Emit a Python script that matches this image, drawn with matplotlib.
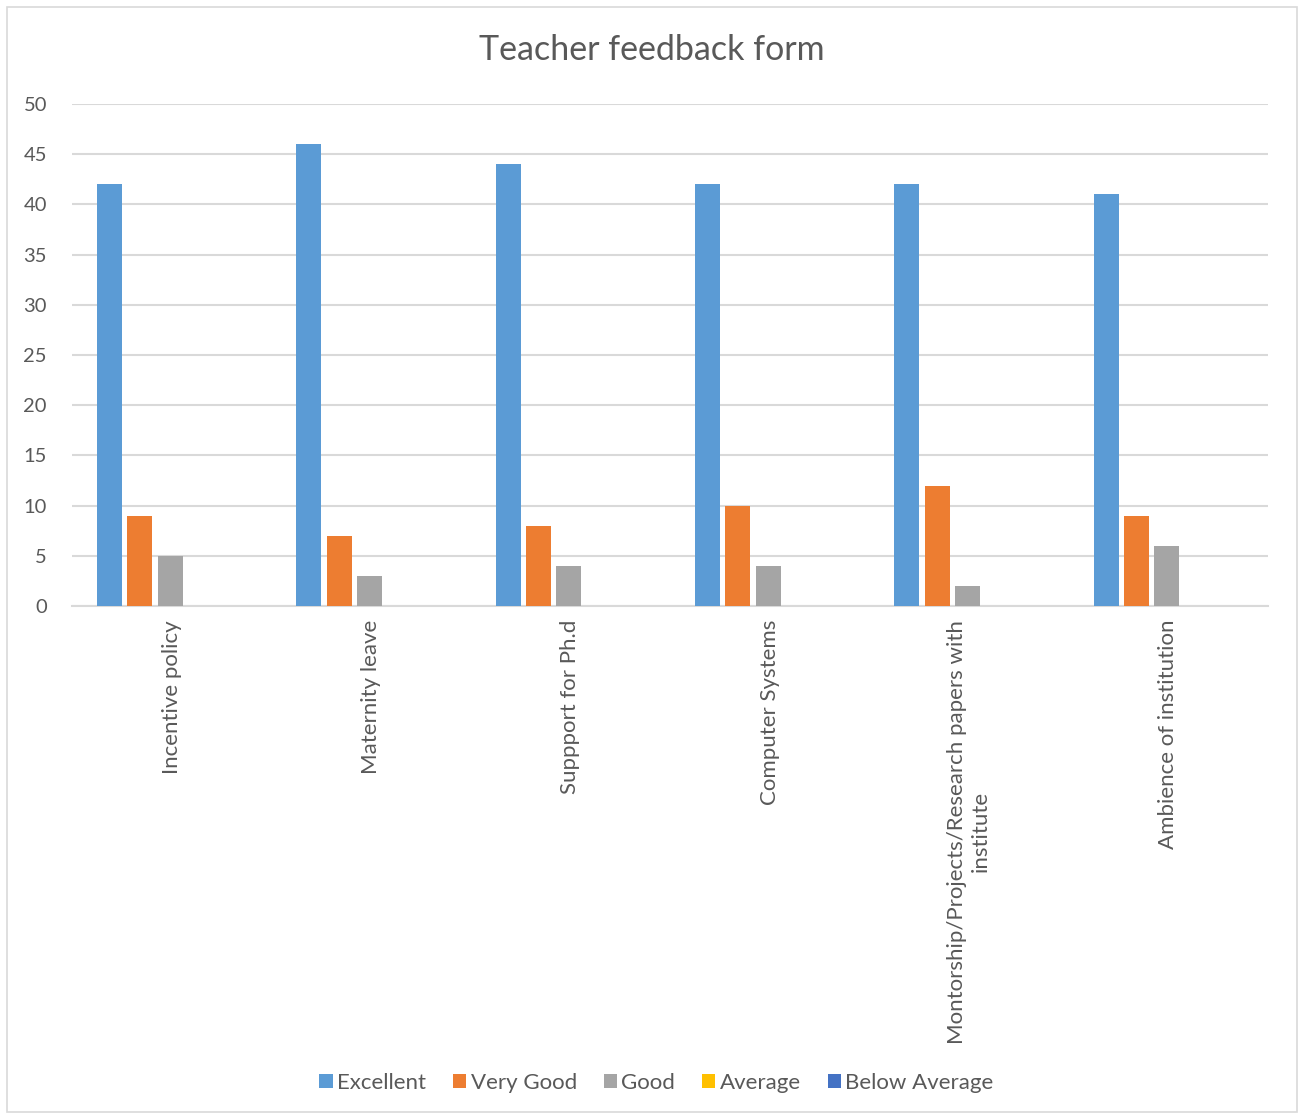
import matplotlib.pyplot as plt
import numpy as np
from matplotlib.patches import Rectangle

categories = [
    "Incentive policy",
    "Maternity leave",
    "Suppport for Ph.d",
    "Computer Systems",
    "Montorship/Projects/Research papers with\ninstitute",
    "Ambience of institution",
]
series_names = ["Excellent", "Very Good", "Good", "Average", "Below Average"]
excellent = [42, 46, 44, 42, 42, 41]
very_good = [9, 7, 8, 10, 12, 9]
good = [5, 3, 4, 4, 2, 6]
average = [0, 0, 0, 0, 0, 0]
below_average = [0, 0, 0, 0, 0, 0]
colors = ["#5B9BD5", "#ED7D31", "#A5A5A5", "#FFC000", "#4472C4"]

plt.rcParams["font.family"] = ["Lato", "DejaVu Sans"]
TEXT = "#595959"

fig = plt.figure(figsize=(13.03, 11.19), dpi=100)
W, H = 1303, 1119
ax = fig.add_axes([72 / W, 1 - 606 / H, (1268 - 72) / W, (606 - 104) / H])

# chart border
fig.patches.append(Rectangle((7 / W, 1 - 1112 / H), (1297 - 7) / W, (1112 - 7) / H,
                             transform=fig.transFigure, fill=False,
                             edgecolor="#D9D9D9", linewidth=1.2))

x = np.arange(len(categories))
values = [excellent, very_good, good, average, below_average]
width = 0.125
step = 0.152
for i, (name, vals, c) in enumerate(zip(series_names, values, colors)):
    ax.bar(x + (i - 2) * step - 0.008, vals, width, color=c, label=name, zorder=3)

ax.set_xlim(-0.5, len(categories) - 0.5)
ax.set_ylim(0, 50)
ax.set_yticks(range(0, 51, 5))
ax.yaxis.grid(True, color="#D9D9D9", linewidth=1.5, zorder=0)
for s in ["top", "right", "left"]:
    ax.spines[s].set_visible(False)
ax.spines["bottom"].set_color("#D9D9D9")
ax.spines["bottom"].set_linewidth(1.5)
ax.tick_params(axis="both", length=0, labelsize=14.5, colors=TEXT)
ax.tick_params(axis="y", pad=18)
ax.set_xticks(x)
ax.set_xticklabels(categories, rotation=90, ha="center", va="top",
                   multialignment="center", fontsize=16)
ax.tick_params(axis="x", pad=10)

fig.text(0.5, 1 - 50 / H, "Teacher feedback form", ha="center", va="center",
         fontsize=24.5, color=TEXT)

handles, labels = ax.get_legend_handles_labels()
fig.legend(handles, labels, loc="center", bbox_to_anchor=(0.5 + 5 / W, 1 - 1083 / H),
           ncol=5, frameon=False, fontsize=16, labelcolor=TEXT,
           handlelength=0.6, handleheight=0.6, handletextpad=0.2,
           columnspacing=1.2)

fig.savefig("out.png", dpi=100)
